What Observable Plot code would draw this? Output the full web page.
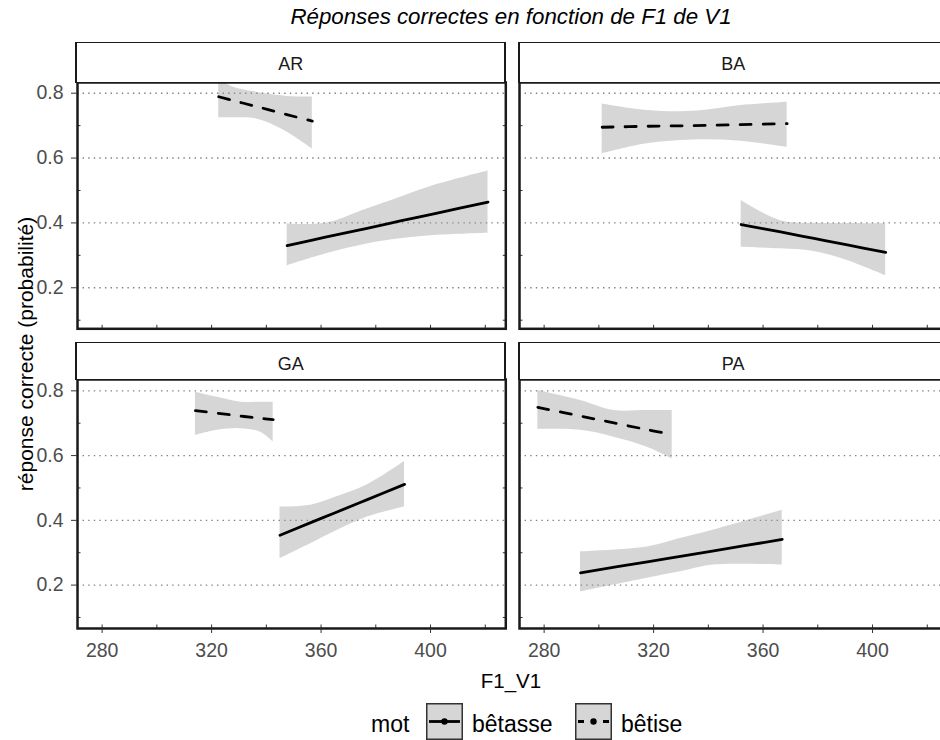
<!DOCTYPE html>
<html><head><meta charset="utf-8">
<script src="https://cdn.jsdelivr.net/npm/d3@7"></script>
<script src="https://cdn.jsdelivr.net/npm/@observablehq/plot@0.6"></script>
<style>
html,body{margin:0;padding:0;background:#fff;overflow:hidden;}
#chart{position:relative;width:940px;height:740px;overflow:hidden;font-family:"Liberation Sans",Arial,sans-serif;background:#fff;}
.abs{position:absolute;white-space:nowrap;}
.strip{position:absolute;box-sizing:border-box;background:#fff;border:1.7px solid #1a1a1a;border-left-width:2.5px;border-right-width:2.5px;}
.striptxt{position:absolute;white-space:nowrap;font-size:18px;line-height:18px;color:#1a1a1a;text-align:center;}
</style></head><body><div id="chart"></div>
<script>
// ---- data ----
const facets = ["AR", "BA", "GA", "PA"];
const mots = ["bêtasse", "bêtise"];
const yTicks = [0.2, 0.4, 0.6, 0.8];
const yMinor = [0.1, 0.3, 0.5, 0.7];
const xLabelTicks = [280, 320, 360, 400];
const xMinorTicks = [280, 300, 320, 340, 360, 380, 400, 420];
// rows: [F1_V1, predicted probability, lower CI, upper CI]
const AR_betasse = [[347.6, .330, .268, .397], [361.6, .356, .304, .399], [376.8, .383, .335, .443], [389, .406, .351, .479], [401.2, .428, .361, .515], [421, .464, .368, .560]];
const AR_betise  = [[322.6, .789, .724, .845], [328, .777, .724, .818], [335, .762, .723, .805], [340, .751, .711, .798], [347.5, .734, .680, .790], [356.8, .714, .628, .788]];
const BA_betasse = [[352, .395, .325, .469], [366.4, .372, .320, .407], [378.6, .352, .312, .399], [390.8, .332, .284, .398], [404.8, .309, .237, .397]];
const BA_betise  = [[301.2, .695, .613, .767], [317.6, .698, .644, .747], [334.7, .700, .656, .744], [351.8, .703, .652, .762], [368.8, .706, .633, .772]];
const GA_betasse = [[345, .354, .282, .441], [356.2, .393, .328, .447], [364.7, .422, .364, .470], [376.9, .464, .410, .510], [390.5, .511, .441, .582]];
const GA_betise  = [[314.1, .739, .662, .796], [322.1, .731, .678, .780], [330.6, .722, .683, .765], [337.9, .715, .672, .765], [342.5, .711, .642, .765]];
const PA_betasse = [[293.3, .238, .179, .303], [317.7, .272, .221, .318], [329.8, .289, .241, .344], [342, .306, .262, .370], [367, .341, .262, .431]];
const PA_betise  = [[277.7, .749, .681, .801], [293.3, .722, .678, .770], [305.5, .701, .657, .739], [317.7, .680, .626, .739], [326.8, .665, .590, .739]];

const seriesByFacet = {
  AR: [AR_betasse, AR_betise], BA: [BA_betasse, BA_betise],
  GA: [GA_betasse, GA_betise], PA: [PA_betasse, PA_betise]
};
const rowsFor = f => seriesByFacet[f].flatMap((arr, i) =>
  arr.map(([x, y, lo, hi]) => ({facet: f, mot: mots[i], x, y, lo, hi})));

// ---- layout ----
const chart = document.getElementById("chart");
const FONT = '"Liberation Sans", Arial, sans-serif';
const W = 428.3;
const xDomain = [271, 427.5];
const layout = [
  {f: "AR", left: 76.7, top: 82, h: 246.3, showY: true,  showX: false, yDom: [0.0735, 0.833], stripTop: 43},
  {f: "BA", left: 519,  top: 82, h: 246.3, showY: false, showX: false, yDom: [0.0735, 0.833], stripTop: 43},
  {f: "GA", left: 76.7, top: 379.3, h: 249, showY: true,  showX: true, yDom: [0.066, 0.835], stripTop: 342.5},
  {f: "PA", left: 519,  top: 379.3, h: 249, showY: false, showX: true, yDom: [0.066, 0.835], stripTop: 342.5}
];

function addDiv(cls, text, css) {
  const d = document.createElement("div");
  d.className = cls;
  if (text != null) d.textContent = text;
  Object.assign(d.style, css);
  chart.appendChild(d);
  return d;
}

for (const L of layout) {
  const mL = L.showY ? 77 : 4, mR = 4, mT = 4, mB = L.showX ? 38 : 4;
  const rows = rowsFor(L.f);
  const marks = [
    Plot.gridY(yTicks, {stroke: "#808080", strokeOpacity: 1, strokeWidth: 1.4, strokeDasharray: "1.4,4.2"}),
    Plot.areaY(rows, {x: "x", y1: "lo", y2: "hi", z: "mot", fill: "#999999", fillOpacity: 0.4, curve: "catmull-rom", clip: true}),
    Plot.line(rows.filter(d => d.mot === mots[0]), {x: "x", y: "y", stroke: "#000", strokeWidth: 2.8, curve: "catmull-rom", clip: true}),
    Plot.line(rows.filter(d => d.mot === mots[1]), {x: "x", y: "y", stroke: "#000", strokeWidth: 2.8, strokeDasharray: "11,12", curve: "catmull-rom", clip: true}),
    Plot.axisX(xMinorTicks, {anchor: "bottom", tickSize: -3.5, tickFormat: () => "", stroke: "#333", label: null}),
    Plot.axisY(yMinor, {anchor: "left", tickSize: -3.5, tickFormat: () => "", stroke: "#333", label: null}),
    Plot.axisY(yMinor, {anchor: "right", tickSize: -3.5, tickFormat: () => "", stroke: "#333", label: null}),
    Plot.frame({stroke: "#1a1a1a", strokeWidth: 2.5})
  ];
  if (L.showY) marks.push(Plot.axisY(yTicks, {anchor: "left", tickSize: 6, tickPadding: 8, tickFormat: d3.format(".1f"), stroke: "#333", label: null}));
  if (L.showX) marks.push(Plot.axisX(xLabelTicks, {anchor: "bottom", tickSize: 5, tickPadding: 9.5, stroke: "#333", label: null}));
  const svg = Plot.plot({
    width: mL + W + mR,
    height: mT + L.h + mB,
    marginLeft: mL, marginRight: mR, marginTop: mT, marginBottom: mB,
    x: {domain: xDomain},
    y: {domain: L.yDom},
    style: {position: "absolute", left: (L.left - mL) + "px", top: (L.top - mT) + "px", maxWidth: "none",
            background: "transparent", overflow: "visible", fontFamily: FONT, fontSize: "19.5px", color: "#4d4d4d"},
    marks
  });
  chart.appendChild(svg);
  // strip
  addDiv("strip", null, {left: (L.left - 1.25) + "px", top: (L.stripTop - 0.85) + "px",
    width: (W + 2.5) + "px", height: (L.top + 0.85 - (L.stripTop - 0.85)) + "px"});
  addDiv("striptxt", L.f, {left: L.left + "px", width: W + "px", top: (L.stripTop + 12.2) + "px"});
}

// titles
addDiv("abs", "Réponses correctes en fonction de F1 de V1", {left: "211px", width: "600px", textAlign: "center",
  top: "6px", fontSize: "22.3px", lineHeight: "22.3px", fontStyle: "italic", color: "#000"});
addDiv("abs", "F1_V1", {left: "411px", width: "200px", textAlign: "center", top: "671px",
  fontSize: "20.5px", lineHeight: "20.5px", color: "#000"});
addDiv("abs", "réponse correcte (probabilité)", {left: "25.4px", top: "354px", fontSize: "21px", lineHeight: "21px",
  color: "#000", transform: "translate(-50%,-50%) rotate(-90deg)"});

// legend
addDiv("abs", "mot", {left: "371px", top: "712.5px", fontSize: "23px", lineHeight: "23px", color: "#000"});
addDiv("abs", mots[0], {left: "472px", top: "712.5px", fontSize: "23px", lineHeight: "23px", color: "#000"});
addDiv("abs", mots[1], {left: "621px", top: "712.5px", fontSize: "23px", lineHeight: "23px", color: "#000"});
function key(left, dashed) {
  const ns = "http://www.w3.org/2000/svg";
  const s = document.createElementNS(ns, "svg");
  s.setAttribute("width", 37); s.setAttribute("height", 37);
  s.style.position = "absolute"; s.style.left = left + "px"; s.style.top = "703px";
  s.innerHTML = `<rect x="0.75" y="0.75" width="35.5" height="35.5" fill="#d6d6d6" stroke="#333" stroke-width="1.5"/>` +
    `<line x1="3" x2="34" y1="18.5" y2="18.5" stroke="#000" stroke-width="2.8" ${dashed ? 'stroke-dasharray="6,19"' : ""}/>` +
    `<circle cx="18.5" cy="18.5" r="3.2" fill="#000"/>`;
  chart.appendChild(s);
}
key(426, false);
key(575, true);
</script></body></html>
